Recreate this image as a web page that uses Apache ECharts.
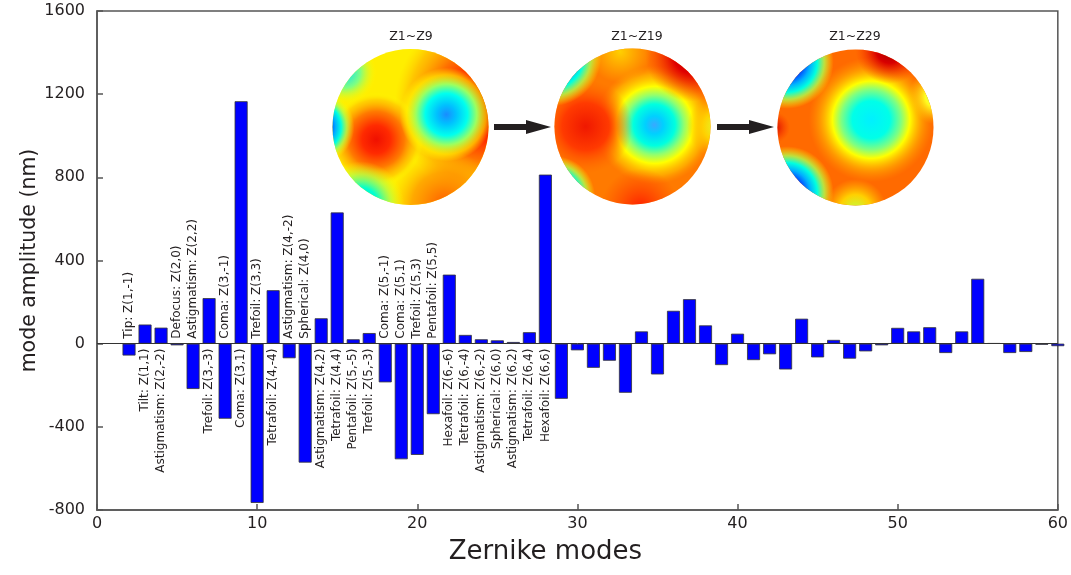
<!DOCTYPE html>
<html>
<head>
<meta charset="utf-8">
<script src="https://cdn.jsdelivr.net/npm/echarts@6/dist/echarts.min.js"></script>
<style>html,body{margin:0;padding:0;background:#fff;}#chart{width:1071px;height:575px;}</style>
</head>
<body>
<div id="chart"></div>
<script>
// ---- data ----
const modes = [2,3,4,5,6,7,8,9,10,11,12,13,14,15,16,17,18,19,20,21,22,23,24,25,26,27,28,29,30,31,32,33,34,35,36,37,38,39,40,41,42,43,44,45,46,47,48,49,50,51,52,53,54,55,56,57,58,59,60];
const amplitudes = [-57,92,77,-8,-218,219,-361,1166,-766,257,-70,-572,122,631,21,51,-186,-556,-535,-339,332,42,21,16,8,55,813,-265,-32,-116,-82,-236,59,-148,158,214,88,-103,48,-79,-51,-124,120,-66,18,-72,-37,-8,76,59,79,-45,59,312,2,-45,-40,-5,-12];
const zernikeLabels = ['Tip: Z(1,-1)','Tilt: Z(1,1)','Astigmatism: Z(2,-2)','Defocus: Z(2,0)','Astigmatism: Z(2,2)','Trefoil: Z(3,-3)','Coma: Z(3,-1)','Coma: Z(3,1)','Trefoil: Z(3,3)','Tetrafoil: Z(4,-4)','Astigmatism: Z(4,-2)','Spherical: Z(4,0)','Astigmatism: Z(4,2)','Tetrafoil: Z(4,4)','Pentafoil: Z(5,-5)','Trefoil: Z(5,-3)','Coma: Z(5,-1)','Coma: Z(5,1)','Trefoil: Z(5,3)','Pentafoil: Z(5,5)','Hexafoil: Z(6,-6)','Tetrafoil: Z(6,-4)','Astigmatism: Z(6,-2)','Spherical: Z(6,0)','Astigmatism: Z(6,2)','Tetrafoil: Z(6,4)','Hexafoil: Z(6,6)'];
const mapTitles = ['Z1~Z9','Z1~Z19','Z1~Z29'];
const xRange = [0, 60, 10];
const yRange = [-800, 1600, 400];

// ---- helpers for the wavefront illustrations ----
const FONT = 'DejaVu Sans';
function rg(x, y, r, stops) {
  return {type:'radial', x:x, y:y, r:r, colorStops: stops.map(s => ({offset:s[0], color:s[1]}))};
}
function disk(cx, cy, R, base, layers) {
  const els = [{type:'circle', shape:{cx:cx, cy:cy, r:R}, style:{fill:base}, silent:true}];
  layers.forEach(l => els.push({type:'circle', shape:{cx:cx, cy:cy, r:R}, style:{fill:l}, silent:true}));
  return els;
}
const T = 'rgba(255,255,0,0)';
const blueEdge = (x,y,r) => rg(x,y,r,[[0,'#0000b0'],[0.3,'#0020ff'],[0.5,'#00b0ff'],[0.65,'#00ffe0'],[0.8,'rgba(170,255,80,0.8)'],[1,T]]);
const disk1 = disk(410.5, 127, 78, '#ffee00', [
  rg(1.0,0.35,0.6,[[0,'#d80000'],[0.35,'#ff2000'],[0.6,'#ff7000'],[0.85,'rgba(255,170,0,0.6)'],[1,'rgba(255,200,0,0)']]),
  rg(0.72,1.0,0.35,[[0,'#ff5a00'],[0.6,'rgba(255,140,0,0.7)'],[1,'rgba(255,180,0,0)']]),
  rg(0.28,0.58,0.3,[[0,'#f01000'],[0.3,'#ff2a00'],[0.6,'#ff7a00'],[0.85,'rgba(255,190,0,0.6)'],[1,T]]),
  rg(0.73,0.42,0.3,[[0,'#1a8cff'],[0.2,'#00c0ff'],[0.45,'#00ffee'],[0.65,'#9cff60'],[0.85,'rgba(255,255,0,0.6)'],[1,T]]),
  blueEdge(-0.1,0.5,0.24),
  rg(0.18,1.0,0.28,[[0,'#00c8ff'],[0.4,'#00ffd0'],[0.7,'rgba(170,255,80,0.7)'],[1,T]]),
  rg(0.08,0.15,0.2,[[0,'#00e0ff'],[0.5,'#80ff80'],[1,T]])
]);
const disk2 = disk(632.5, 126.5, 78, '#ff7a00', [
  rg(0.64,0.49,0.38,[[0,'#3aa8ff'],[0.15,'#00d0ff'],[0.35,'#00ffe0'],[0.5,'#90ff70'],[0.65,'#ffff00'],[0.85,'rgba(255,200,0,0.6)'],[1,'rgba(255,160,0,0)']]),
  rg(0.2,0.5,0.3,[[0,'#f01800'],[0.5,'#ff3a00'],[1,'rgba(255,100,0,0)']]),
  rg(0.88,0.04,0.3,[[0,'#a80000'],[0.4,'#e00000'],[1,'rgba(255,60,0,0)']]),
  rg(0.42,0.02,0.2,[[0,'#ffd000'],[1,'rgba(255,200,0,0)']]),
  blueEdge(-0.02,0.05,0.32),
  blueEdge(0.0,0.95,0.26),
  rg(1.05,0.5,0.2,[[0,'#e0ff30'],[0.5,'#ffd000'],[1,'rgba(255,180,0,0)']]),
  rg(0.55,1.02,0.25,[[0,'#ff2000'],[1,'rgba(255,60,0,0)']])
]);
const disk3 = disk(855.5, 127.5, 78, '#ff6a00', [
  rg(0.6,0.45,0.4,[[0,'#00f0ff'],[0.3,'#00ffe8'],[0.48,'#80ff80'],[0.62,'#ffff00'],[0.82,'rgba(255,180,0,0.6)'],[1,'rgba(255,150,0,0)']]),
  blueEdge(0.06,0.08,0.3),
  blueEdge(0.06,0.92,0.3),
  rg(-0.02,0.5,0.1,[[0,'#d00000'],[1,'rgba(255,40,0,0)']]),
  rg(0.72,0.0,0.22,[[0,'#a00000'],[0.4,'#d80000'],[1,'rgba(255,60,0,0)']]),
  rg(1.02,0.3,0.18,[[0,'#80ffb0'],[0.4,'#ffff20'],[1,'rgba(255,200,0,0)']]),
  rg(0.5,1.03,0.2,[[0,'#c0ff40'],[0.5,'#ffd000'],[1,'rgba(255,180,0,0)']])
]);
function arrow(x0, x1, y) {
  return [
    {type:'rect', shape:{x:x0, y:y-3, width:(x1-x0)-22, height:6}, style:{fill:'#231f20'}, silent:true},
    {type:'polygon', shape:{points:[[x1-25,y-7],[x1,y],[x1-25,y+7]]}, style:{fill:'#231f20'}, silent:true}
  ];
}
const titles = [[411,37],[637,37],[855,37]].map((p,i) => ({type:'text', x:p[0], y:p[1], style:{text:mapTitles[i], fontFamily:FONT, fontSize:12.5, fill:'#231f20', align:'center', verticalAlign:'middle'}, silent:true}));

const chart = echarts.init(document.getElementById('chart'));
chart.setOption({
  animation:false,
  backgroundColor:'#fff',
  grid:{left:97, right:8, top:11, bottom:65, show:true, borderColor:'#555', borderWidth:1.5, backgroundColor:'transparent'},
  xAxis:{type:'value', min:xRange[0], max:xRange[1], interval:xRange[2],
    axisLine:{show:true, onZero:false, lineStyle:{color:'#555', width:1.5}},
    axisTick:{show:true, inside:true, length:6, lineStyle:{color:'#555', width:1.5}},
    axisLabel:{fontFamily:FONT, fontSize:16, color:'#231f20', margin:6, formatter: v => String(v)},
    splitLine:{show:false},
    name:'Zernike modes', nameLocation:'middle', nameGap:29,
    nameTextStyle:{fontFamily:FONT, fontSize:26, color:'#231f20', padding:[0,64,0,0]}},
  yAxis:{type:'value', min:yRange[0], max:yRange[1], interval:yRange[2],
    axisLine:{show:true, onZero:false, lineStyle:{color:'#555', width:1.5}},
    axisTick:{show:true, inside:true, length:6, lineStyle:{color:'#555', width:1.5}},
    axisLabel:{fontFamily:FONT, fontSize:16, color:'#231f20', margin:12, formatter: v => String(v)},
    splitLine:{show:false},
    name:'mode amplitude (nm)', nameLocation:'middle', nameGap:57, nameMoveOverlap:false,
    nameTextStyle:{fontFamily:FONT, fontSize:20.5, color:'#231f20'}},
  series:[
    {type:'bar', data: modes.map((m,i) => [m, amplitudes[i]]), barWidth:13,
      itemStyle:{color:'#0000ff', borderColor:'#333', borderWidth:0.8},
      markLine:{silent:true, symbol:'none', label:{show:false}, lineStyle:{color:'#333', width:1, type:'solid'}, data:[{yAxis:0}]},
      z:2},
    {type:'custom', silent:true, clip:false, z:3,
      data: zernikeLabels.map((t,i) => [modes[i], amplitudes[i]]),
      renderItem: function(params, api){
        const m = api.value(0), v = api.value(1);
        const p = api.coord([m, 0]);
        const up = v <= 0;
        return {type:'text', x:p[0], y: up ? p[1]-5 : p[1]+5, rotation: Math.PI/2,
          style:{text: zernikeLabels[params.dataIndex], fill:'#231f20', fontSize:12, fontFamily:FONT,
                 align: up ? 'left' : 'right', verticalAlign:'middle'}};
      }}
  ],
  graphic:[].concat(disk1, disk2, disk3, arrow(494,551,127), arrow(717,774,127), titles)
});
</script>
</body>
</html>
